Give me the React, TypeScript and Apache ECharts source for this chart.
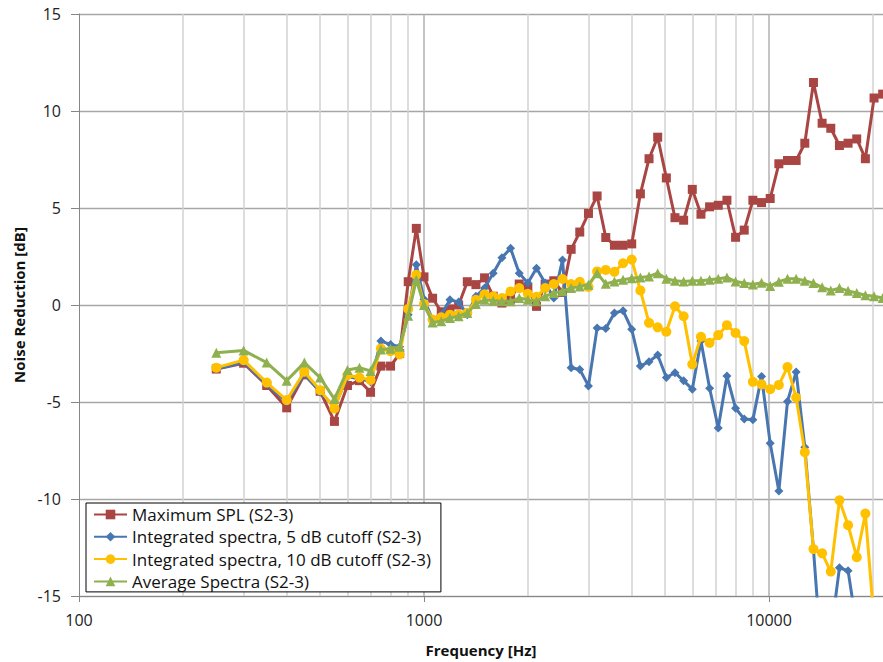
import React, { useEffect, useRef } from "react";
import * as echarts from "echarts";

const freqs = [
  250, 300, 350, 400, 450, 500, 550, 600, 650, 700, 750, 800, 850, 900, 950, 1000,
  1059, 1122, 1189, 1260, 1335, 1414, 1498, 1587, 1682, 1782, 1888, 2000, 2119, 2245,
  2378, 2520, 2670, 2828, 2997, 3175, 3364, 3564, 3775, 4000, 4238, 4490, 4757, 5040,
  5339, 5657, 5993, 6350, 6727, 7127, 7551, 8000, 8476, 8980, 9514, 10079, 10679, 11314,
  11986, 12699, 13454, 14254, 15102, 16000, 16951, 17959, 19027, 20159, 21357,
];

const maxSpl = [
  -3.3, -3.0, -4.15, -5.3, -3.6, -4.45, -6.0, -4.15, -3.9, -4.5, -3.15, -3.15, -2.5, 1.2, 3.95, 1.45,
  0.35, -0.35, -0.2, 0.0, 1.2, 1.05, 1.4, 0.45, 0.1, 0.3, 1.08, 0.9, -0.07, 1.08,
  1.25, 0.65, 2.87, 3.76, 4.72, 5.62, 3.48, 3.08, 3.08, 3.15, 5.73, 7.54, 8.65, 6.55,
  4.5, 4.37, 5.96, 4.68, 5.06, 5.14, 5.4, 3.49, 3.86, 5.4, 5.28, 5.49, 7.28, 7.45,
  7.45, 8.34, 11.47, 9.37, 9.11, 8.22, 8.34, 8.56, 7.54, 10.67, 10.87,
];

const cutoff5 = [
  -3.3, -2.95, -4.1, -5.0, -3.55, -4.5, -5.25, -3.7, -3.8, -3.95, -1.86, -2.03, -2.15, -0.5, 2.07, 0.3,
  -0.75, -0.5, 0.27, 0.15, -0.5, 0.45, 0.87, 1.64, 2.44, 2.92, 1.64, 1.13, 1.9, 1.13,
  0.36, 2.32, -3.23, -3.32, -4.17, -1.18, -1.21, -0.41, -0.29, -1.25, -3.15, -2.92, -2.58, -3.74,
  -3.49, -3.91, -4.34, -1.86, -4.29, -6.34, -3.66, -5.32, -5.88, -5.91, -3.68, -7.13, -9.59, -4.97,
  -3.45, -7.33, -12.6, -18.6, -17.0, -13.55, -13.7, -16.6, -19.0, -19.0, -19.0,
];

const cutoff10 = [
  -3.23, -2.84, -4.0, -4.9, -3.44, -4.39, -5.33, -3.62, -3.74, -3.86, -2.24, -2.38, -2.55, -0.2, 1.56, 0.05,
  -0.75, -0.63, -0.5, -0.5, -0.4, 0.27, 0.55, 0.45, 0.36, 0.7, 0.87, 0.58, 0.42, 0.87,
  1.08, 1.34, 1.08, 1.2, 0.93, 1.73, 1.81, 1.71, 2.15, 2.34, 0.75, -0.92, -1.15, -1.38,
  -0.07, -0.58, -3.06, -1.64, -1.95, -1.55, -1.04, -1.44, -1.86, -3.96, -4.09, -4.34, -4.12, -3.2,
  -4.77, -7.59, -12.58, -12.8, -13.74, -10.07, -11.35, -13.0, -10.75, -16.3, -17.5,
];

const avgSpectra = [
  -2.46, -2.34, -2.97, -3.9, -2.97, -3.74, -4.85, -3.35, -3.23, -3.4, -2.29, -2.25, -2.15, -0.55, 1.3, 0.0,
  -0.9, -0.84, -0.67, -0.58, -0.41, 0.05, 0.27, 0.22, 0.19, 0.19, 0.36, 0.27, 0.19, 0.45,
  0.62, 0.72, 0.87, 0.96, 1.05, 1.64, 1.09, 1.21, 1.3, 1.38, 1.42, 1.47, 1.64, 1.35,
  1.25, 1.21, 1.25, 1.25, 1.3, 1.35, 1.42, 1.21, 1.13, 1.06, 1.15, 0.98, 1.2, 1.35,
  1.35, 1.25, 1.13, 0.91, 0.75, 0.87, 0.73, 0.62, 0.5, 0.45, 0.36,
];

const seriesNames = [
  "Maximum SPL (S2-3)",
  "Integrated spectra, 5 dB cutoff (S2-3)",
  "Integrated spectra, 10 dB cutoff (S2-3)",
  "Average Spectra (S2-3)",
];

const minorGrid = [200, 300, 400, 500, 600, 700, 800, 900, 2000, 3000, 4000, 5000, 6000, 7000, 8000, 9000, 20000];
const majorGrid = [1000, 10000];
const xTickLabels = [100, 1000, 10000];

const FONT = "'Open Sans', Lato, sans-serif";

export default function App() {
  const ref = useRef<HTMLDivElement>(null);

  useEffect(() => {
    if (!ref.current) return;
    const chart = echarts.init(ref.current, undefined, { renderer: "svg" });

    const pairs = (vals: number[]) => freqs.map((f, i) => [f, vals[i]]);

    const mk = (name: string, vals: number[], color: string, symbol: string, size: number, z: number) => ({
      type: "line",
      name,
      data: pairs(vals),
      symbol,
      symbolSize: size,
      showSymbol: true,
      clip: true,
      z,
      lineStyle: { color, width: 3 },
      itemStyle: { color },
      emphasis: { disabled: true },
    });

    chart.setOption({
      animation: false,
      textStyle: { fontFamily: FONT },
      grid: { left: 79, top: 14, right: 0, bottom: 62, containLabel: false },
      legend: {
        data: seriesNames,
        orient: "vertical",
        left: 86,
        top: 503,
        itemWidth: 33,
        itemHeight: 12,
        itemGap: 5.3,
        padding: [3, 10, 2, 7],
        borderColor: "#000",
        borderWidth: 1,
        backgroundColor: "#fff",
        borderRadius: 0,
        selectedMode: false,
        textStyle: { fontSize: 17, lineHeight: 17, color: "#111", fontFamily: FONT },
      },
      xAxis: {
        type: "log",
        logBase: 10,
        min: 100,
        max: 21400,
        name: "Frequency [Hz]",
        nameLocation: "middle",
        nameGap: 46,
        nameTextStyle: { fontWeight: "bold", fontSize: 15, color: "#111", fontFamily: FONT },
        axisLine: { show: true, onZero: false, lineStyle: { color: "#868686", width: 1 } },
        axisTick: { show: true, length: 6, lineStyle: { color: "#868686" } },
        axisLabel: {
          margin: 16,
          fontSize: 16,
          color: "#222",
          fontFamily: FONT,
          showMaxLabel: false,
          formatter: (v: number) => {
            const r = Math.round(v);
            return xTickLabels.indexOf(r) >= 0 ? String(r) : "";
          },
        },
        splitLine: { show: false },
      },
      yAxis: {
        type: "value",
        min: -15,
        max: 15,
        interval: 5,
        name: "Noise Reduction [dB]",
        nameLocation: "middle",
        nameGap: 50,
        nameTextStyle: { fontWeight: "bold", fontSize: 15, color: "#111", fontFamily: FONT },
        axisLine: { show: true, lineStyle: { color: "#868686", width: 1 } },
        axisTick: { show: true, length: 8, lineStyle: { color: "#868686" } },
        axisLabel: { margin: 18, fontSize: 16, color: "#222", fontFamily: FONT },
        splitLine: { show: true, lineStyle: { color: "#a6a6a6", width: 1.3 } },
      },
      series: [
        {
          type: "line",
          name: "_grid",
          data: [[1000, -30]],
          showSymbol: false,
          symbol: "none",
          lineStyle: { opacity: 0 },
          silent: true,
          z: 1,
          markLine: {
            silent: true,
            symbol: ["none", "none"],
            z: 1,
            animation: false,
            label: { show: false },
            emphasis: { disabled: true },
            lineStyle: { color: "#d2d2d2", width: 1.5, type: "solid" },
            data: [
              ...minorGrid.map((v) => ({ xAxis: v })),
              ...majorGrid.map((v) => ({ xAxis: v, lineStyle: { color: "#b0b0b0", width: 1.5, type: "solid" } })),
            ],
          },
        },
        mk(seriesNames[0], maxSpl, "#A94543", "rect", 9, 3),
        mk(seriesNames[1], cutoff5, "#4876B0", "diamond", 9, 4),
        mk(seriesNames[2], cutoff10, "#FFC000", "circle", 10, 5),
        mk(seriesNames[3], avgSpectra, "#8FB04E", "triangle", 10, 6),
      ],
    });

    return () => chart.dispose();
  }, []);

  return (
    <div
      ref={ref}
      style={{ position: "fixed", left: 0, top: 0, width: 883, height: 662, background: "#fff" }}
    />
  );
}
